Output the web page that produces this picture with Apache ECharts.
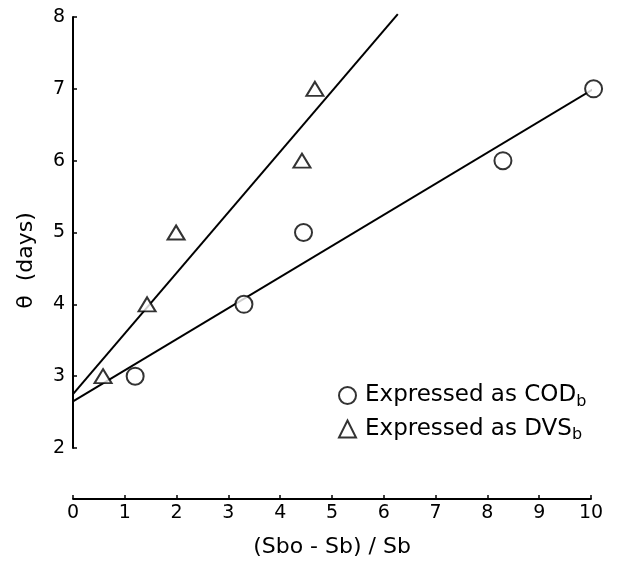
<!DOCTYPE html>
<html>
<head>
<meta charset="utf-8">
<script src="https://cdn.jsdelivr.net/npm/echarts@6/dist/echarts.min.js"></script>
<style>
  html, body { margin: 0; padding: 0; background: #fff; }
  #chart { width: 629px; height: 563px; }
</style>
</head>
<body>
<div id="chart"></div>
<script>
const codX = [1.2, 3.3, 4.45, 8.3, 10.05];
const codY = [3.0, 4.0, 5.0, 6.0, 7.0];
const dvsX = [0.58, 1.43, 1.99, 4.42, 4.67];
const dvsY = [3.0, 4.0, 5.0, 6.0, 7.0];

// fitted lines (end points)
const codLineX = [0, 10.33];
const codLineY = [2.65, 7.12];
const dvsLineX = [0, 6.27];
const dvsLineY = [2.75, 8.04];

const xTicks = [0, 1, 2, 3, 4, 5, 6, 7, 8, 9, 10];
const yTicks = [2, 3, 4, 5, 6, 7, 8];

const font = 'DejaVu Sans';
const zip = (a, b) => a.map((v, i) => [v, b[i]]);

const chart = echarts.init(document.getElementById('chart'));
chart.setOption({
  animation: false,
  backgroundColor: '#fff',
  grid: { left: 73, right: 38, top: 17, bottom: 111 },
  legend: {
    orient: 'vertical',
    left: 333,
    top: 379,
    itemWidth: 17,
    itemHeight: 17,
    itemGap: 8,
    selectedMode: false,
    data: [
      { name: 'COD', icon: 'circle' },
      { name: 'DVS', icon: 'triangle' }
    ],
    itemStyle: { color: '#fff', borderColor: '#000', borderWidth: 2 },
    formatter: name => '{t|Expressed as ' + name + '}{s|b}',
    textStyle: {
      padding: [0, 0, 0, 4],
      rich: {
        t: { fontFamily: font, fontSize: 23, color: '#000' },
        s: { fontFamily: font, fontSize: 16, color: '#000', padding: [12, 0, 0, 0] }
      }
    }
  },
  xAxis: {
    type: 'value',
    min: xTicks[0],
    max: xTicks[xTicks.length - 1],
    interval: 1,
    offset: 51,
    name: '(Sbo - Sb) / Sb',
    nameLocation: 'middle',
    nameGap: 37,
    nameTextStyle: { fontFamily: font, fontSize: 22, color: '#000' },
    axisLine: { lineStyle: { color: '#000', width: 1.8 } },
    axisTick: { inside: true, length: 4, lineStyle: { color: '#000', width: 1.5 } },
    axisLabel: { fontFamily: font, fontSize: 19, color: '#000', margin: 5 },
    splitLine: { show: false }
  },
  yAxis: {
    type: 'value',
    min: yTicks[0],
    max: yTicks[yTicks.length - 1],
    interval: 1,
    name: 'θ  (days)',
    nameLocation: 'middle',
    nameRotate: 90,
    nameGap: 36,
    nameTextStyle: { fontFamily: font, fontSize: 22, color: '#000', padding: [0, 56, 0, 0] },
    axisLine: { show: true, lineStyle: { color: '#000', width: 2 } },
    axisTick: { inside: true, length: 4, lineStyle: { color: '#000', width: 1.5 } },
    axisLabel: { fontFamily: font, fontSize: 19, color: '#000', margin: 8 },
    splitLine: { show: false }
  },
  series: [
    {
      name: 'COD fit',
      type: 'line',
      data: zip(codLineX, codLineY),
      showSymbol: false,
      clip: false,
      lineStyle: { color: '#000', width: 2 },
      z: 2
    },
    {
      name: 'DVS fit',
      type: 'line',
      data: zip(dvsLineX, dvsLineY),
      showSymbol: false,
      clip: false,
      lineStyle: { color: '#000', width: 2 },
      z: 2
    },
    {
      name: 'COD',
      type: 'scatter',
      data: zip(codX, codY),
      symbol: 'circle',
      symbolSize: 17,
      clip: false,
      itemStyle: { color: '#fff', borderColor: '#000', borderWidth: 2 },
      z: 5
    },
    {
      name: 'DVS',
      type: 'scatter',
      data: zip(dvsX, dvsY),
      symbol: 'triangle',
      symbolSize: [17, 14],
      clip: false,
      itemStyle: { color: '#fff', borderColor: '#000', borderWidth: 2 },
      z: 5
    }
  ]
});
</script>
</body>
</html>
